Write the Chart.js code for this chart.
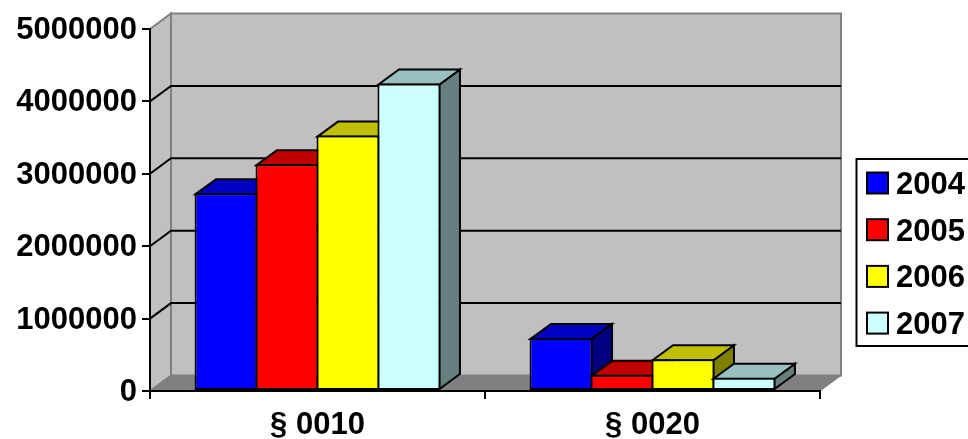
<!DOCTYPE html>
<html>
<head>
<meta charset="utf-8">
<style>
  html, body { margin: 0; padding: 0; background: #fff; overflow: hidden; }
  canvas { display: block; }
</style>
<script src="https://cdn.jsdelivr.net/npm/chart.js@4"></script>
</head>
<body>
<canvas id="chart" width="968" height="439"></canvas>
<script>
const categories = ["§ 0010", "§ 0020"];
const years = ["2004", "2005", "2006", "2007"];
const values2004 = [2733000, 733000];
const values2005 = [3133000, 223000];
const values2006 = [3528000, 438000];
const values2007 = [4248000, 183000];
const seriesValues = [values2004, values2005, values2006, values2007];
const yTicks = [0, 1000000, 2000000, 3000000, 4000000, 5000000];

const frontColors = ["#0000FF", "#FF0000", "#FFFF00", "#CCFFFF"];
const topColors = ["#0000C0", "#C00000", "#C0C000", "#99C0C0"];
const sideColors = ["#000080", "#800000", "#808000", "#668080"];

const FONT = "bold 31px 'Liberation Sans', Arial, sans-serif";
const DEPTH_X = 21;
const DEPTH_Y = 15.5;

function poly(ctx, pts, fill, stroke, lineWidth) {
  ctx.beginPath();
  pts.forEach((p, i) => (i ? ctx.lineTo(p[0], p[1]) : ctx.moveTo(p[0], p[1])));
  ctx.closePath();
  ctx.fillStyle = fill;
  ctx.fill();
  ctx.strokeStyle = stroke;
  ctx.lineWidth = lineWidth;
  ctx.lineJoin = "miter";
  ctx.stroke();
}

// walls, floor and gridlines behind the bars
const wallsPlugin = {
  id: "walls",
  beforeDraw(chart) {
    const { ctx, chartArea: a, scales } = chart;
    ctx.save();
    const dx = DEPTH_X;
    const dy = DEPTH_Y;
    poly(ctx, [[a.left, a.top], [a.left + dx, a.top - dy], [a.left + dx, a.bottom - dy], [a.left, a.bottom]], "#C0C0C0", "#808080", 2);
    poly(ctx, [[a.left + dx, a.top - dy], [a.right + dx, a.top - dy], [a.right + dx, a.bottom - dy], [a.left + dx, a.bottom - dy]], "#C0C0C0", "#808080", 2);
    poly(ctx, [[a.left, a.bottom], [a.left + dx, a.bottom - dy], [a.right + dx, a.bottom - dy], [a.right, a.bottom]], "#808080", "#808080", 1);

    ctx.strokeStyle = "#000";
    ctx.lineWidth = 2;
    yTicks.slice(1, -1).forEach((v) => {
      const y = scales.y.getPixelForValue(v);
      ctx.beginPath();
      ctx.moveTo(a.left, y);
      ctx.lineTo(a.left + dx, y - dy);
      ctx.lineTo(a.right + dx, y - dy);
      ctx.stroke();
    });
    ctx.restore();
  },
  // bars go left to right so each front covers the side of the one before
  beforeDatasetsDraw(chart) {
    const { ctx } = chart;
    const dx = 20.5;
    const dy = 15;
    categories.forEach((_, c) => {
      seriesValues.forEach((_, s) => {
        const bar = chart.getDatasetMeta(s).data[c];
        const l = bar.x - bar.width / 2 + 1;
        const r = bar.x + bar.width / 2 - 1;
        const t = bar.y + 1;
        const b = bar.base - 1;
        ctx.save();
        poly(ctx, [[r, t], [r + dx, t - dy], [r + dx, b - dy], [r, b]], sideColors[s], "#000", 2);
        poly(ctx, [[l, t], [l + dx, t - dy], [r + dx, t - dy], [r, t]], topColors[s], "#000", 2);
        ctx.restore();
        bar.draw(ctx);
      });
    });
    return false;
  },
  afterDraw(chart) {
    const { ctx } = chart;
    ctx.save();
    // legend runs off the right edge of the picture, as in the original
    ctx.strokeStyle = "#000";
    ctx.lineWidth = 2;
    ctx.strokeRect(856.5, 159, 130, 187);
    ctx.font = FONT;
    ctx.textBaseline = "middle";
    years.forEach((year, i) => {
      const y = 172.5 + i * 46.7;
      ctx.fillStyle = frontColors[i];
      ctx.fillRect(867, y, 21, 21);
      ctx.strokeStyle = "#000";
      ctx.strokeRect(867, y, 21, 21);
      ctx.fillStyle = "#000";
      ctx.fillText(year, 896, y + 13);
    });
    ctx.restore();
  },
};

new Chart(document.getElementById("chart"), {
  type: "bar",
  data: {
    labels: categories,
    datasets: years.map((year, i) => ({
      label: year,
      data: seriesValues[i],
      backgroundColor: frontColors[i],
      borderColor: "#000",
      borderWidth: 2,
      borderSkipped: false,
      categoryPercentage: 0.728,
      barPercentage: 1.033,
    })),
  },
  options: {
    responsive: false,
    animation: false,
    layout: { padding: { top: 29, right: 148, left: 0, bottom: 0 } },
    plugins: {
      legend: { display: false },
      tooltip: { enabled: false },
    },
    scales: {
      x: {
        afterFit: (scale) => { scale.height = 48; },
        border: { color: "#000", width: 2 },
        grid: { drawOnChartArea: false, color: "#000", lineWidth: 2, tickLength: 8 },
        ticks: { color: "#000", font: { family: "'Liberation Sans', Arial, sans-serif", size: 31, weight: "bold" }, padding: 8, maxRotation: 0 },
      },
      y: {
        min: 0,
        max: 5000000,
        afterFit: (scale) => { scale.width = 150; },
        afterBuildTicks: (scale) => { scale.ticks = yTicks.map((value) => ({ value })); },
        border: { color: "#000", width: 2 },
        grid: { drawOnChartArea: false, color: "#000", lineWidth: 2, tickLength: 8 },
        ticks: {
          color: "#000",
          font: { family: "'Liberation Sans', Arial, sans-serif", size: 31, weight: "bold" },
          padding: 5,
          labelOffset: 1.5,
          callback: (value) => String(value),
        },
      },
    },
  },
  plugins: [wallsPlugin],
});
</script>
</body>
</html>
